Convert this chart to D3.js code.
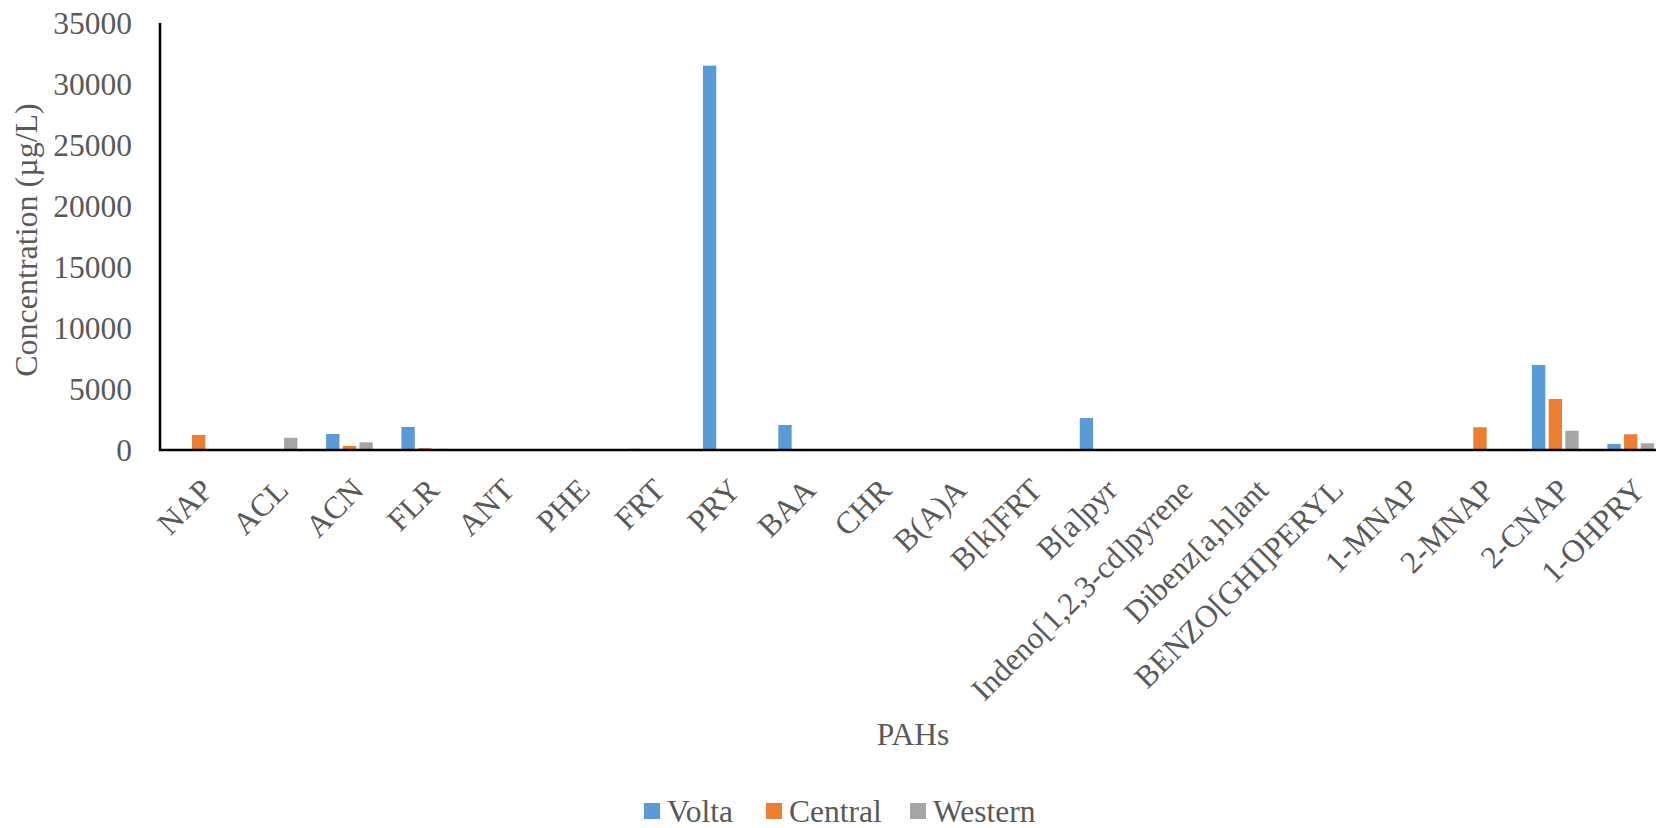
<!DOCTYPE html>
<html><head><meta charset="utf-8">
<script src="https://cdn.jsdelivr.net/npm/d3@7"></script>
<style>
html,body{margin:0;padding:0;background:#fff;overflow:hidden;}
svg text{font-family:"Liberation Serif","Times New Roman",serif;fill:#595959;}
</style></head>
<body>
<svg id="chart" width="1656" height="828"></svg>
<script>
const categories = ["NAP","ACL","ACN","FLR","ANT","PHE","FRT","PRY","BAA","CHR","B(A)A","B[k]FRT","B[a]pyr","Indeno[1,2,3-cd]pyrene","Dibenz[a,h]ant","BENZO[GHI]PERYL","1-MNAP","2-MNAP","2-CNAP","1-OHPRY"];
const seriesNames = ["Volta","Central","Western"];
const volta   = [20, 10, 1310, 1890, 0, 0, 100, 31500, 2050, 30, 0, 0, 2620, 0, 0, 0, 20, 40, 6970, 490];
const central = [1230, 10, 330, 150, 0, 0, 0, 0, 0, 0, 0, 0, 0, 0, 0, 0, 10, 1860, 4180, 1290];
const western = [50, 1000, 630, 100, 0, 0, 0, 0, 0, 0, 0, 0, 0, 0, 0, 0, 0, 0, 1580, 550];
const yTicks = [0,5000,10000,15000,20000,25000,30000,35000];
const colors = ["#5B9BD5","#ED7D31","#A5A5A5"];

const FS = 31.5;
const FONT = "Liberation Serif, Times New Roman, serif";
const svg = d3.select("#chart");
const left = 161, step = 75.37;
const x0 = d3.scaleBand().domain(categories).range([left, left + step*categories.length]).padding(0);
const x1 = d3.scaleBand().domain(seriesNames).range([0, x0.bandwidth()]).paddingInner(0).paddingOuter(0.76);
const y = d3.scaleLinear().domain([0,35000]).range([450, 23]);
const color = d3.scaleOrdinal().domain(seriesNames).range(colors);

const data = categories.map((c,i)=>({cat:c, vals:[volta[i],central[i],western[i]]}));
const bw = x1.bandwidth()*0.8, off = x1.bandwidth()*0.1;
svg.append("g").selectAll("g.grp").data(data).join("g").attr("class","grp")
  .attr("transform", d=>`translate(${x0(d.cat)},0)`)
  .selectAll("rect").data(d=>d.vals.map((v,j)=>({s:seriesNames[j], v})))
  .join("rect")
  .attr("x", d=>x1(d.s)+off).attr("width", bw)
  .attr("y", d=>y(d.v)).attr("height", d=>y(0)-y(d.v))
  .attr("fill", d=>color(d.s));

// y axis
const yAxis = d3.axisLeft(y).tickValues(yTicks).tickSize(0).tickPadding(28).tickFormat(d3.format("d"));
const ya = svg.append("g").attr("transform", `translate(160,0)`).call(yAxis)
  .attr("font-family", FONT).attr("font-size", FS);
ya.select(".domain").remove();
ya.selectAll("text").attr("fill","#595959").attr("dy","0.34em");
svg.append("line").attr("x1",160).attr("x2",160).attr("y1",y(35000)).attr("y2",y(0)+1).attr("stroke","#000").attr("stroke-width",2.5);
svg.append("line").attr("x1",159).attr("x2",1700).attr("y1",y(0)).attr("y2",y(0)).attr("stroke","#000").attr("stroke-width",2.5);

// x labels
svg.append("g").attr("font-family", FONT).attr("font-size", FS)
  .selectAll("text").data(categories).join("text")
  .attr("transform", d=>`translate(${x0(d)+x0.bandwidth()/2+16},492) rotate(-45)`)
  .attr("text-anchor","end").text(d=>d);

// titles
svg.append("text").attr("font-family", FONT).attr("font-size",32)
  .attr("transform","translate(37,240) rotate(-90)").attr("text-anchor","middle").text("Concentration (µg/L)");
svg.append("text").attr("font-family", FONT).attr("font-size",FS)
  .attr("x",913).attr("y",745).attr("text-anchor","middle").text("PAHs");

// legend
const legX = [644, 766, 910];
const lg = svg.append("g").attr("font-family", FONT).attr("font-size",FS)
  .selectAll("g").data(seriesNames).join("g");
lg.append("rect").attr("x",(d,i)=>legX[i]).attr("y",803).attr("width",16).attr("height",16).attr("fill",d=>color(d));
lg.append("text").attr("x",(d,i)=>legX[i]+23).attr("y",822).text(d=>d);
</script>
</body></html>
